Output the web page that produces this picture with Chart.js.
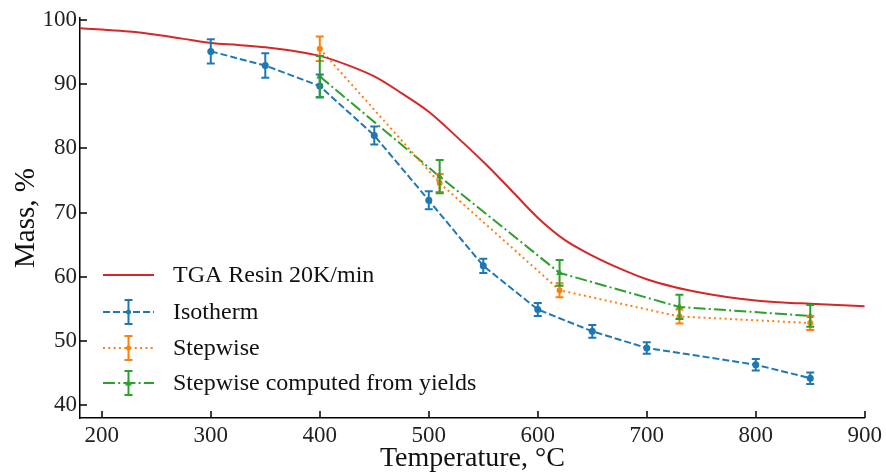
<!DOCTYPE html>
<html lang="en">
<head>
    <meta charset="UTF-8">
    <title>TGA Resin</title>
    <script src="https://cdn.jsdelivr.net/npm/chart.js"></script>
    <style>
        html, body { margin: 0; padding: 0; background: #fff; }
        #wrap { width: 886px; height: 472px; }
    </style>
</head>
<body>
    <div id="wrap"><canvas id="myChart" width="886" height="472"></canvas></div>

    <script>
        // TGA curve, 20 K/min
        const tgaTemp = [180, 200, 225, 250, 275, 300, 325, 350, 375, 400, 425, 450, 475, 500, 525, 550, 575, 600, 625, 650, 675, 700, 725, 750, 775, 800, 825, 850, 875, 900];
        const tgaMass = [98.7, 98.5, 98.2, 97.7, 97.05, 96.4, 96.1, 95.75, 95.2, 94.4, 93.0, 91.2, 88.6, 85.7, 81.9, 77.9, 73.6, 69.2, 65.7, 63.3, 61.3, 59.6, 58.4, 57.5, 56.8, 56.3, 56.0, 55.8, 55.6, 55.4];

        // isotherm
        const isoTemp = [300, 350, 400, 450, 500, 550, 600, 650, 700, 800, 850];
        const isoMass = [95.1, 92.9, 89.7, 82.0, 71.9, 61.7, 54.9, 51.5, 48.9, 46.3, 44.2];
        const isoErr = [1.9, 1.9, 1.8, 1.4, 1.4, 1.1, 1.0, 1.0, 0.9, 0.9, 0.9];

        // stepwise
        const stepTemp = [400, 510, 620, 730, 850];
        const stepMass = [95.5, 74.6, 57.9, 53.8, 52.8];
        const stepErr = [1.9, 1.4, 1.1, 1.1, 1.1];

        // stepwise computed from yields
        const yieldTemp = [400, 510, 620, 730, 850];
        const yieldMass = [91.2, 75.6, 60.6, 55.3, 53.9];
        const yieldErr = [3.2, 2.6, 2.0, 1.9, 1.7];

        const xTicks = [200, 300, 400, 500, 600, 700, 800, 900];
        const yTicks = [40, 50, 60, 70, 80, 90, 100];

        const FONT = '"Liberation Serif", "DejaVu Serif", serif';
        const RED = '#d62728', BLUE = '#1f77b4', ORANGE = '#ff7f0e', GREEN = '#2ca02c';

        function pts(xs, ys) { return xs.map((x, i) => ({ x: x, y: ys[i] })); }

        // vertical error bars with caps
        const errorBars = {
            id: 'errorBars',
            afterDatasetsDraw(chart) {
                const ctx = chart.ctx;
                const xs = chart.scales.x, ys = chart.scales.y;
                chart.data.datasets.forEach((ds) => {
                    if (!ds.errors) return;
                    ctx.save();
                    ctx.strokeStyle = ds.borderColor;
                    ctx.lineWidth = 2;
                    ctx.setLineDash([]);
                    ds.data.forEach((p, i) => {
                        const px = xs.getPixelForValue(p.x);
                        const y1 = ys.getPixelForValue(p.y - ds.errors[i]);
                        const y2 = ys.getPixelForValue(p.y + ds.errors[i]);
                        ctx.beginPath();
                        ctx.moveTo(px, y1); ctx.lineTo(px, y2);
                        ctx.moveTo(px - 4, y1); ctx.lineTo(px + 4, y1);
                        ctx.moveTo(px - 4, y2); ctx.lineTo(px + 4, y2);
                        ctx.stroke();
                    });
                    ctx.restore();
                });
            }
        };

        // inward ticks like matplotlib's "direction in"
        const inTicks = {
            id: 'inTicks',
            afterDraw(chart) {
                const ctx = chart.ctx, a = chart.chartArea;
                const xs = chart.scales.x, ys = chart.scales.y;
                ctx.save();
                ctx.strokeStyle = '#000';
                ctx.lineWidth = 1.5;
                ctx.beginPath();
                xTicks.forEach(v => {
                    const px = Math.round(xs.getPixelForValue(v));
                    ctx.moveTo(px, a.bottom); ctx.lineTo(px, a.bottom - 7);
                });
                yTicks.forEach(v => {
                    const py = Math.round(ys.getPixelForValue(v));
                    ctx.moveTo(a.left, py); ctx.lineTo(a.left + 7, py);
                });
                ctx.stroke();
                ctx.restore();
            }
        };

        // legend in the lower left of the plot
        const innerLegend = {
            id: 'innerLegend',
            afterDraw(chart) {
                const ctx = chart.ctx, a = chart.chartArea;
                const x0 = a.left + 23, x1 = a.left + 74, xm = (x0 + x1) / 2;
                const rowY = [a.bottom - 143, a.bottom - 106, a.bottom - 70, a.bottom - 35];
                ctx.save();
                chart.data.datasets.forEach((ds, i) => {
                    const y = rowY[i];
                    ctx.strokeStyle = ds.borderColor;
                    ctx.lineWidth = 2;
                    ctx.setLineDash(ds.borderDash || []);
                    ctx.beginPath();
                    ctx.moveTo(x0, y); ctx.lineTo(x1, y);
                    ctx.stroke();
                    ctx.setLineDash([]);
                    if (ds.errors) {
                        ctx.beginPath();
                        ctx.moveTo(xm, y - 12); ctx.lineTo(xm, y + 12);
                        ctx.moveTo(xm - 4, y - 12); ctx.lineTo(xm + 4, y - 12);
                        ctx.moveTo(xm - 4, y + 12); ctx.lineTo(xm + 4, y + 12);
                        ctx.stroke();
                        ctx.fillStyle = ds.borderColor;
                        if (ds.pointStyle === 'triangle') {
                            ctx.beginPath();
                            ctx.moveTo(xm, y - 3.5); ctx.lineTo(xm + 3.5, y + 2.5); ctx.lineTo(xm - 3.5, y + 2.5);
                            ctx.closePath(); ctx.fill();
                        } else {
                            ctx.beginPath();
                            ctx.arc(xm, y, 2.5, 0, Math.PI * 2);
                            ctx.fill();
                        }
                    }
                    ctx.fillStyle = '#111';
                    ctx.font = '24px ' + FONT;
                    ctx.textBaseline = 'middle';
                    ctx.fillText(ds.label, a.left + 93, y + 1);
                });
                ctx.restore();
            }
        };

        const ctx = document.getElementById('myChart').getContext('2d');
        new Chart(ctx, {
            type: 'line',
            data: {
                datasets: [{
                    label: 'TGA Resin 20K/min',
                    data: pts(tgaTemp, tgaMass),
                    borderColor: RED,
                    borderWidth: 2,
                    pointRadius: 0,
                    cubicInterpolationMode: 'monotone'
                }, {
                    label: 'Isotherm',
                    data: pts(isoTemp, isoMass),
                    errors: isoErr,
                    borderColor: BLUE,
                    backgroundColor: BLUE,
                    borderWidth: 2,
                    borderDash: [7, 3],
                    pointRadius: 3.5,
                    pointBorderWidth: 0,
                    pointStyle: 'circle'
                }, {
                    label: 'Stepwise',
                    data: pts(stepTemp, stepMass),
                    errors: stepErr,
                    borderColor: ORANGE,
                    backgroundColor: ORANGE,
                    borderWidth: 2,
                    borderDash: [2, 3.3],
                    pointRadius: 3,
                    pointBorderWidth: 0,
                    pointStyle: 'circle'
                }, {
                    label: 'Stepwise computed from yields',
                    data: pts(yieldTemp, yieldMass),
                    errors: yieldErr,
                    borderColor: GREEN,
                    backgroundColor: GREEN,
                    borderWidth: 2,
                    borderDash: [12, 3.2, 2, 3.2],
                    pointRadius: 4,
                    pointBorderWidth: 0,
                    pointStyle: 'triangle'
                }]
            },
            options: {
                responsive: false,
                animation: false,
                layout: { padding: { top: 18, right: 21, left: 0, bottom: 0 } },
                plugins: {
                    legend: { display: false },
                    tooltip: { enabled: false }
                },
                scales: {
                    x: {
                        type: 'linear',
                        min: 180,
                        max: 900,
                        afterBuildTicks: s => { s.ticks = xTicks.map(v => ({ value: v })); },
                        afterFit: s => { s.height = 54; },
                        grid: { display: false, drawTicks: false },
                        border: { display: true, color: '#000', width: 1.5 },
                        ticks: { color: '#222', padding: 4, maxRotation: 0, font: { family: FONT, size: 23 } },
                        title: { display: true, text: 'Temperature, °C', color: '#111', padding: { top: -1, bottom: -3 }, font: { family: FONT, size: 28 } }
                    },
                    y: {
                        min: 38,
                        max: 100.3,
                        afterBuildTicks: s => { s.ticks = yTicks.map(v => ({ value: v })); },
                        afterFit: s => { s.width = 80; },
                        grid: { display: false, drawTicks: false },
                        border: { display: true, color: '#000', width: 1.5 },
                        ticks: { color: '#222', padding: 3, font: { family: FONT, size: 23 } },
                        title: { display: true, text: 'Mass, %', color: '#111', padding: { top: 9, bottom: 0 }, font: { family: FONT, size: 29 } }
                    }
                }
            },
            plugins: [errorBars, inTicks, innerLegend]
        });
    </script>
</body>
</html>
